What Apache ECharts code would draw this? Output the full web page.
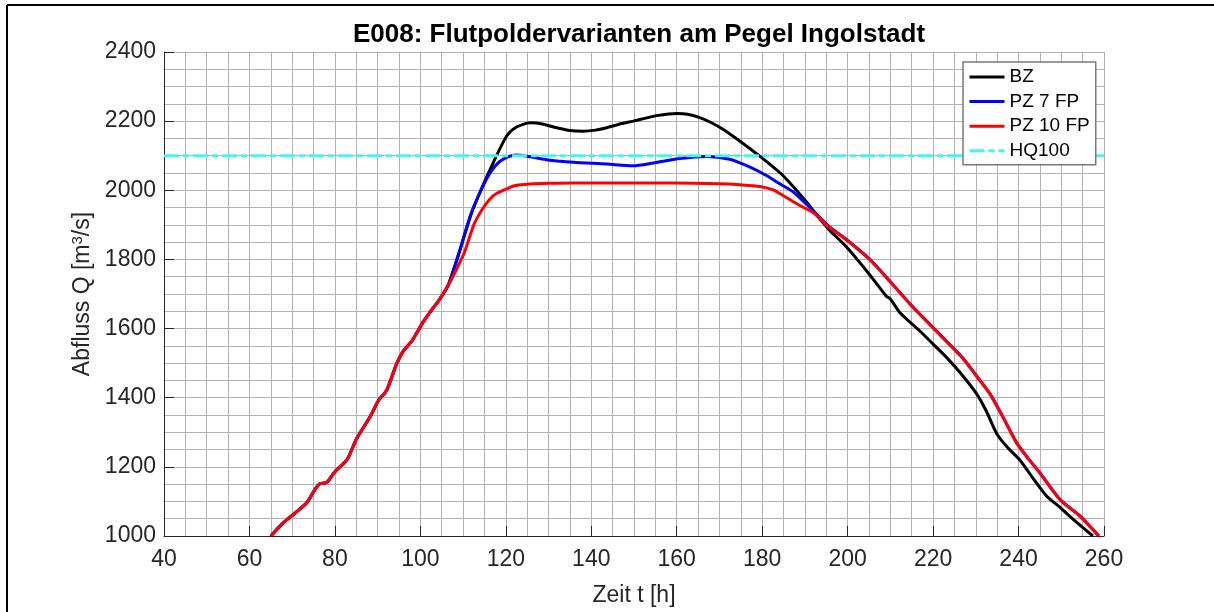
<!DOCTYPE html>
<html>
<head>
<meta charset="utf-8">
<script src="https://cdn.jsdelivr.net/npm/echarts@6/dist/echarts.min.js"></script>
<style>html,body{margin:0;padding:0;background:#fff;}#c{width:1214px;height:612px;}</style>
</head>
<body>
<div id="c"></div>
<script>
// Common rising limb (all scenarios identical)
const riseT = [65, 67.9, 70.5, 73.4, 75.3, 76.5, 78.1, 80.0, 82.8, 85.1, 88.2, 90.2, 92.1, 94.5, 96, 98.0, 100.7, 103, 104.2, 106.5];
const riseQ = [1000, 1038, 1065, 1096, 1134, 1151, 1155, 1186, 1220, 1282, 1344, 1392, 1421, 1500, 1535, 1564, 1620, 1660, 1679, 1725];

// BZ (black)
const bzT = [108.9, 112.0, 114.5, 117.1, 120.2, 122.5, 125.7, 128.5, 131.9, 135, 138.1, 141, 143.6, 146.5, 149.8, 152.5, 155.3, 160.0, 162.5, 165.4, 168, 170.9, 174.8, 179.5, 184.9, 190.4, 192.0, 195.5, 199.8, 205.2, 209.1, 209.9, 212.3, 216.9, 220, 223.2, 226.5, 230.2, 232.5, 234.9, 237.5, 240.3, 243.5, 246.6, 249.5, 252.0, 255, 257.4];
const bzQ = [1813, 1935, 2010, 2081, 2157, 2183, 2195, 2192, 2181, 2173, 2171, 2174, 2181, 2191, 2200, 2208, 2216, 2222, 2220, 2210, 2196, 2176, 2142, 2098, 2042, 1966, 1940, 1888, 1835, 1755, 1693, 1687, 1645, 1593, 1555, 1516, 1470, 1411, 1360, 1296, 1255, 1220, 1165, 1115, 1085, 1057, 1025, 1000];

// PZ 7 FP (blue) – after ~192 h it coincides with PZ 10 FP
const pz7T = [108.9, 112.0, 115.5, 117.5, 119.4, 122.5, 125.7, 130.3, 135.8, 143.6, 149.8, 154.5, 160.7, 167.0, 172.4, 176.4, 181.1, 184.2, 187.3, 192.0, 195.5, 199.8, 205.2, 209.9, 215.4, 220.0, 223.5, 227.1, 230, 233.3, 236.5, 239.6, 242.5, 245.0, 249.7, 254.4, 256.5, 258.8];
const pz7Q = [1813, 1937, 2033, 2070, 2090, 2102, 2097, 2087, 2081, 2076, 2071, 2079, 2092, 2098, 2090, 2071, 2042, 2018, 1995, 1940, 1897, 1857, 1800, 1737, 1661, 1603, 1559, 1513, 1466, 1412, 1341, 1269, 1221, 1183, 1106, 1058, 1031, 1000];

// PZ 10 FP (red)
const pz10T = [108, 110.3, 112.5, 114.5, 116.3, 118, 120.2, 122, 125.7, 130, 135.8, 159.2, 170, 174.8, 179.5, 182.6, 184.2, 187.3, 190, 192.0, 195.5, 199.8, 205.2, 209.9, 215.4, 220.0, 223.5, 227.1, 230, 233.3, 236.5, 239.6, 242.5, 245.0, 249.7, 254.4, 256.5, 258.8];
const pz10Q = [1760, 1820, 1900, 1945, 1975, 1992, 2004, 2013, 2018, 2020, 2021, 2021, 2019, 2016, 2011, 2001, 1990, 1967, 1948, 1935, 1895, 1856, 1799, 1736, 1660, 1602, 1558, 1512, 1465, 1411, 1340, 1268, 1220, 1182, 1105, 1057, 1030, 1000];

// HQ100 reference level
const hqT = [40, 260];
const hqQ = [2100, 2100];

const seriesNames = ['BZ', 'PZ 7 FP', 'PZ 10 FP', 'HQ100'];
const xTicks = [40, 260, 20];
const yTicks = [1000, 2400, 200];

function pairs(t, q) { return t.map((v, i) => [v, q[i]]); }
const bzData = pairs(riseT, riseQ).concat(pairs(bzT, bzQ));
const pz7Data = pairs(riseT, riseQ).concat(pairs(pz7T, pz7Q));
const pz10Data = pairs(riseT, riseQ).concat(pairs(pz10T, pz10Q));
const hqData = pairs(hqT, hqQ);

const FONT = 'Liberation Sans, Arial, sans-serif';
const TXT = '#262626';
const GRID = '#b3b3b3';

const chart = echarts.init(document.getElementById('c'), null, {renderer: 'canvas'});

function axisCommon() {
  return {
    type: 'value',
    axisLine: {show: true, onZero: false, lineStyle: {color: TXT, width: 1}},
    axisTick: {show: true, inside: true, length: 10, lineStyle: {color: TXT, width: 1}},
    axisLabel: {color: TXT, fontSize: 23, fontFamily: FONT, formatter: function (v) { return String(v); }},
    splitLine: {show: true, lineStyle: {color: GRID, width: 1}},
    minorTick: {show: false, splitNumber: 4},
    minorSplitLine: {show: true, lineStyle: {color: GRID, width: 1}},
    nameTextStyle: {color: TXT, fontSize: 23, fontFamily: FONT}
  };
}

const xAxis = Object.assign(axisCommon(), {
  min: xTicks[0], max: xTicks[1], interval: xTicks[2],
  name: 'Zeit t [h]', nameLocation: 'middle', nameGap: 48
});
xAxis.axisLabel.margin = 12;

const yAxis = Object.assign(axisCommon(), {
  min: yTicks[0], max: yTicks[1], interval: yTicks[2],
  name: 'Abfluss Q [m{sup|3}/s]', nameLocation: 'middle', nameGap: 63
});
yAxis.nameTextStyle.rich = {
  sup: {fontSize: 15, color: TXT, fontFamily: FONT, verticalAlign: 'top', padding: [0, 0, 10, 0]}
};
yAxis.axisLabel.margin = 8;

function lineSeries(name, data, color, extra) {
  return Object.assign({
    name: name, type: 'line', data: data, showSymbol: false, symbol: 'none',
    smooth: 0.25, animation: false,
    lineStyle: {color: color, width: 3},
    itemStyle: {color: color}
  }, extra || {});
}

chart.setOption({
  animation: false,
  backgroundColor: '#ffffff',
  textStyle: {fontFamily: FONT},
  title: {
    text: 'E008: Flutpoldervarianten am Pegel Ingolstadt',
    left: 634, top: 17, textAlign: 'center',
    textStyle: {fontSize: 26, fontWeight: 'bold', color: '#000', fontFamily: FONT}
  },
  legend: {
    data: seriesNames,
    orient: 'vertical',
    left: 963, top: 62,
    itemWidth: 35, itemHeight: 14,
    itemGap: 2.6,
    padding: [4, 6, 3, 5],
    backgroundColor: '#ffffff',
    borderColor: '#7a7a7a', borderWidth: 1.5,
    itemStyle: {opacity: 0},
    lineStyle: {width: 3},
    textStyle: {fontSize: 19, color: '#000', fontFamily: FONT, lineHeight: 22}
  },
  grid: {left: 164, top: 52, width: 940, height: 488, containLabel: false},
  xAxis: xAxis,
  yAxis: yAxis,
  series: [
    lineSeries(seriesNames[0], bzData, '#000000'),
    lineSeries(seriesNames[1], pz7Data, '#0000ff'),
    lineSeries(seriesNames[2], pz10Data, '#ff0000'),
    lineSeries(seriesNames[3], hqData, '#3ff7f7', {smooth: false, lineStyle: {color: '#3ff7f7', width: 3, type: [15, 4, 6, 4]}})
  ],
  graphic: [
    {type: 'line', shape: {x1: 7, y1: 5, x2: 1214, y2: 5}, style: {stroke: '#000', lineWidth: 2}, silent: true},
    {type: 'line', shape: {x1: 7, y1: 5, x2: 7, y2: 612}, style: {stroke: '#000', lineWidth: 2}, silent: true}
  ]
});
</script>
</body>
</html>
